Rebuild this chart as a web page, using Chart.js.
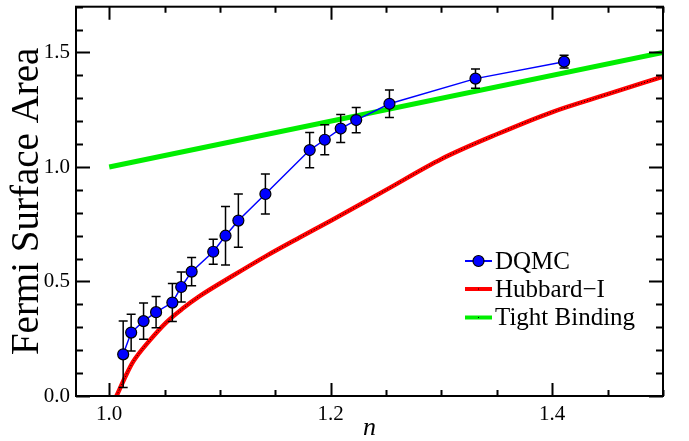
<!DOCTYPE html>
<html>
<head>
<meta charset="utf-8">
<script src="https://cdn.jsdelivr.net/npm/chart.js@4.4.1/dist/chart.umd.min.js"></script>
<style>
  body { margin: 0; background: #fff; }
  #wrap { width: 689px; height: 441px; }
</style>
</head>
<body>
<div id="wrap"><canvas id="chart"></canvas></div>
<script>
// DQMC points with error bars
var dqmcN    = [1.0126, 1.0198, 1.031, 1.0423, 1.057, 1.065, 1.0744, 1.0939, 1.105, 1.1166, 1.141, 1.181, 1.1946, 1.209, 1.223, 1.253, 1.3307, 1.4107];
var dqmcArea = [0.182, 0.277, 0.327, 0.366, 0.408, 0.476, 0.543, 0.630, 0.700, 0.766, 0.882, 1.074, 1.119, 1.168, 1.205, 1.276, 1.386, 1.460];
var dqmcErr  = [0.145, 0.080, 0.079, 0.068, 0.083, 0.065, 0.062, 0.055, 0.128, 0.116, 0.087, 0.077, 0.066, 0.061, 0.055, 0.060, 0.042, 0.028];

// Hubbard-I curve
var hubbardN    = [1.0066, 1.0156, 1.0216, 1.0366, 1.0516, 1.0666, 1.0816, 1.1115, 1.1415, 1.1715, 1.200, 1.250, 1.300, 1.350, 1.400, 1.450, 1.500];
var hubbardArea = [0.000, 0.095, 0.150, 0.243, 0.322, 0.383, 0.436, 0.525, 0.611, 0.691, 0.765, 0.900, 1.035, 1.143, 1.240, 1.318, 1.395];

// Tight binding line
var tightN    = [1.0, 1.5];
var tightArea = [1.0, 1.5];

var xTicks = [1.0, 1.2, 1.4];
var yTicks = [0.0, 0.5, 1.0, 1.5];
var legendLabels = ['DQMC', 'Hubbard\u2212I', 'Tight Binding'];

var serif = "'Liberation Serif', 'DejaVu Serif', serif";

function pts(xs, ys) {
    return xs.map((v, i) => ({x: v, y: ys[i]}));
}

var errorBars = {
    id: 'errorBars',
    beforeDatasetDraw(chart, args) {
        if (args.index != 0) return;
        var ctx = chart.ctx, xs = chart.scales.x, ys = chart.scales.y;
        ctx.save();
        ctx.strokeStyle = '#000';
        ctx.lineWidth = 1.5;
        for (var i = 0; i < dqmcN.length; i++) {
            var px = xs.getPixelForValue(dqmcN[i]);
            var top = ys.getPixelForValue(dqmcArea[i] + dqmcErr[i]);
            var bot = ys.getPixelForValue(dqmcArea[i] - dqmcErr[i]);
            ctx.beginPath();
            ctx.moveTo(px, top); ctx.lineTo(px, bot);
            ctx.moveTo(px - 4.5, top); ctx.lineTo(px + 4.5, top);
            ctx.moveTo(px - 4.5, bot); ctx.lineTo(px + 4.5, bot);
            ctx.stroke();
        }
        ctx.restore();
    }
};

// frame with inward ticks on all four sides
var frame = {
    id: 'frame',
    afterDraw(chart) {
        var ctx = chart.ctx, a = chart.chartArea, xs = chart.scales.x, ys = chart.scales.y;
        ctx.save();
        ctx.strokeStyle = '#000';
        ctx.lineWidth = 2;
        ctx.strokeRect(a.left, a.top, a.right - a.left, a.bottom - a.top);
        ctx.beginPath();
        for (var v = 1.0; v <= 1.5001; v += 0.05) {
            var major = xTicks.some(t => Math.abs(t - v) < 1e-6);
            var len = major ? 13 : 6;
            var px = Math.round(xs.getPixelForValue(v)) + 0.5;
            ctx.moveTo(px, a.bottom); ctx.lineTo(px, a.bottom - len);
            ctx.moveTo(px, a.top); ctx.lineTo(px, a.top + len);
        }
        for (var w = 0; w <= 1.7001; w += 0.1) {
            var majorY = yTicks.some(t => Math.abs(t - w) < 1e-6);
            var lenY = majorY ? 14 : 7;
            var py = Math.round(ys.getPixelForValue(w)) + 0.5;
            ctx.moveTo(a.left, py); ctx.lineTo(a.left + lenY, py);
            ctx.moveTo(a.right, py); ctx.lineTo(a.right - lenY, py);
        }
        ctx.stroke();
        ctx.restore();
    }
};

var legendBox = {
    id: 'legendBox',
    afterDraw(chart) {
        var ctx = chart.ctx;
        var x0 = 465, x1 = 492, tx = 495;
        var rows = [261, 289, 317.5];
        var colors = ['#0000ff', '#ff0000', '#00ee00'];
        var widths = [2, 4, 4];
        ctx.save();
        for (var i = 0; i < rows.length; i++) {
            ctx.strokeStyle = colors[i];
            ctx.lineWidth = widths[i];
            ctx.beginPath();
            ctx.moveTo(x0, rows[i]); ctx.lineTo(x1, rows[i]);
            ctx.stroke();
            if (i == 0) {
                ctx.beginPath();
                ctx.arc((x0 + x1) / 2, rows[i], 5.5, 0, Math.PI * 2);
                ctx.fillStyle = '#0000ff';
                ctx.fill();
                ctx.lineWidth = 1.2;
                ctx.strokeStyle = '#000';
                ctx.stroke();
            } else {
                ctx.fillStyle = '#000';
                ctx.fillRect((x0 + x1) / 2 - 0.5, rows[i] - 0.5, 1, 1);
            }
            ctx.fillStyle = '#000';
            ctx.font = '25px ' + serif;
            ctx.textBaseline = 'middle';
            ctx.textAlign = 'left';
            ctx.fillText(legendLabels[i], tx, rows[i] + 1);
        }
        ctx.restore();
    }
};

var chart = new Chart(document.getElementById('chart'), {
    type: 'scatter',
    data: {
        datasets: [
            {
                label: legendLabels[0],
                data: pts(dqmcN, dqmcArea),
                showLine: true,
                borderColor: '#0000ff',
                borderWidth: 1.5,
                pointRadius: 5.5,
                pointBackgroundColor: '#0000ff',
                pointBorderColor: '#000',
                pointBorderWidth: 1.2
            },
            {
                label: 'dots',
                data: pts(hubbardN, hubbardArea),
                showLine: true,
                borderColor: '#000',
                borderWidth: 1,
                borderDash: [1, 2],
                pointRadius: 0,
                cubicInterpolationMode: 'monotone'
            },
            {
                label: legendLabels[1],
                data: pts(hubbardN, hubbardArea),
                showLine: true,
                borderColor: '#ff0000',
                borderWidth: 4.5,
                pointRadius: 0,
                cubicInterpolationMode: 'monotone'
            },
            {
                label: legendLabels[2],
                data: pts(tightN, tightArea),
                showLine: true,
                borderColor: '#00ee00',
                borderWidth: 5,
                pointRadius: 0
            }
        ]
    },
    options: {
        responsive: true,
        maintainAspectRatio: false,
        animation: false,
        layout: { padding: { top: 4, right: 26, left: 0, bottom: 0 } },
        plugins: { legend: { display: false }, tooltip: { enabled: false } },
        scales: {
            x: {
                type: 'linear',
                min: 0.97,
                max: 1.5,
                grid: { display: false, drawTicks: false },
                border: { display: false },
                afterBuildTicks: s => { s.ticks = xTicks.map(v => ({value: v})); },
                afterFit: s => { s.height = 45; s.paddingLeft = 0; s.paddingRight = 0; },
                ticks: {
                    padding: 6,
                    color: '#000',
                    font: { family: serif, size: 21 },
                    callback: v => v.toFixed(1)
                },
                title: {
                    display: true,
                    text: 'n',
                    color: '#000',
                    font: { family: serif, size: 26, style: 'italic', lineHeight: 1 },
                    padding: { top: 0, bottom: 0 }
                }
            },
            y: {
                min: 0,
                max: 1.7,
                grid: { display: false, drawTicks: false },
                border: { display: false },
                afterBuildTicks: s => { s.ticks = yTicks.map(v => ({value: v})); },
                afterFit: s => { s.width = 76; s.paddingTop = 0; s.paddingBottom = 0; },
                ticks: {
                    padding: 6,
                    color: '#000',
                    font: { family: serif, size: 21 },
                    callback: v => v.toFixed(1)
                },
                title: {
                    display: true,
                    text: 'Fermi Surface Area',
                    color: '#000',
                    font: { family: serif, size: 39 },
                    padding: { top: 4, bottom: 0 }
                }
            }
        }
    },
    plugins: [errorBars, frame, legendBox]
});
</script>
</body>
</html>
